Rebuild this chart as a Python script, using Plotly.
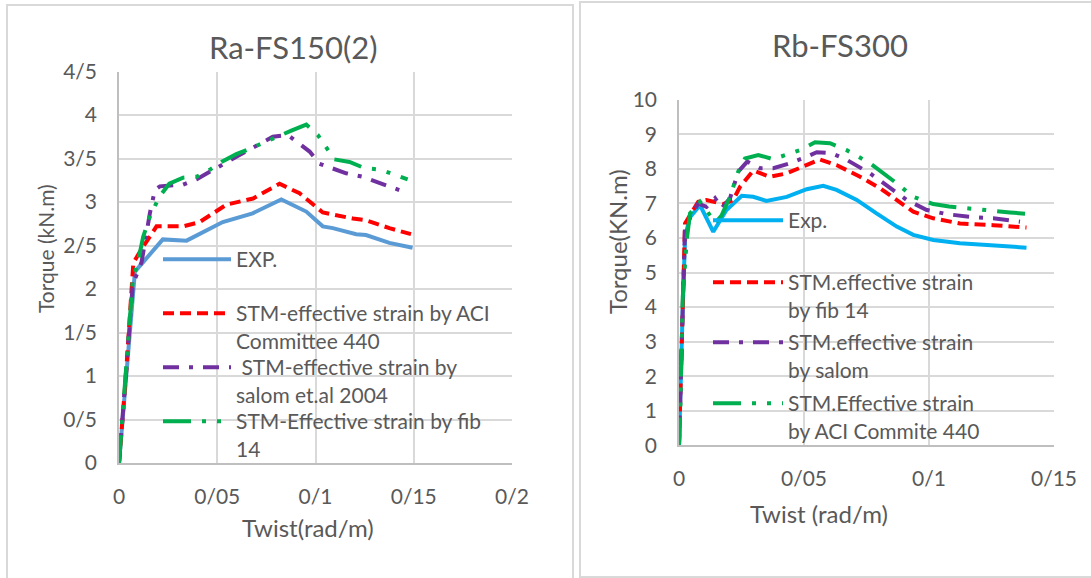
import plotly.graph_objects as go

W, H = 1091, 578
FONT = "Lato"
TXT = "#595959"

# ---------------- Left chart: Ra-FS150(2) ----------------
L_exp_x = [0, 0.0035, 0.0081, 0.0223, 0.0344, 0.0528, 0.068, 0.0826, 0.0953, 0.1037, 0.1088, 0.1207, 0.1257, 0.1376, 0.1494]
L_exp_y = [0, 1.0, 2.2, 2.57, 2.556, 2.77, 2.87, 3.03, 2.89, 2.72, 2.70, 2.63, 2.62, 2.53, 2.475]

L_aci_x = [0, 0.0035, 0.0073, 0.0107, 0.0191, 0.0326, 0.0411, 0.0547, 0.0682, 0.0817, 0.0919, 0.0986, 0.1037, 0.119, 0.1257, 0.1376, 0.1486]
L_aci_y = [0, 1.0, 2.30, 2.43, 2.72, 2.72, 2.77, 2.97, 3.04, 3.21, 3.10, 2.97, 2.88, 2.81, 2.79, 2.70, 2.63]

L_sal_x = [0, 0.0035, 0.0070, 0.0115, 0.0132, 0.0157, 0.0183, 0.0208, 0.0326, 0.0394, 0.0597, 0.0783, 0.0859, 0.097, 0.102, 0.1156, 0.124, 0.1376, 0.1447]
L_sal_y = [0, 1.0, 2.05, 2.31, 2.56, 2.87, 3.14, 3.18, 3.2, 3.26, 3.52, 3.75, 3.77, 3.58, 3.44, 3.33, 3.29, 3.18, 3.12]

L_fib_x = [0, 0.0035, 0.0070, 0.0100, 0.0123, 0.0157, 0.0205, 0.0256, 0.0326, 0.0394, 0.0462, 0.0521, 0.0597, 0.0674, 0.08, 0.0877, 0.0953, 0.1012, 0.1096, 0.1173, 0.1249, 0.1333, 0.1469]
L_fib_y = [0, 1.0, 2.1, 2.35, 2.6, 2.83, 3.06, 3.21, 3.28, 3.29, 3.37, 3.46, 3.55, 3.62, 3.75, 3.82, 3.89, 3.77, 3.49, 3.46, 3.39, 3.37, 3.26]

L_xticks = [0, 0.05, 0.1, 0.15, 0.2]
L_xtext = ["0", "0/05", "0/1", "0/15", "0/2"]
L_yticks = [0, 0.5, 1, 1.5, 2, 2.5, 3, 3.5, 4, 4.5]
L_ytext = ["0", "0/5", "1", "1/5", "2", "2/5", "3", "3/5", "4", "4/5"]

L_names = ["EXP.", "STM-effective strain by ACI<br>Committee 440",
           " STM-effective strain by<br>salom et.al 2004", "STM-Effective strain by fib<br>14"]

# ---------------- Right chart: Rb-FS300 ----------------
R_exp_x = [0, 0.0005, 0.001, 0.0015, 0.0024, 0.0031, 0.0044, 0.0084, 0.0137, 0.019, 0.0251, 0.0297, 0.035, 0.0431, 0.0511, 0.0577, 0.063, 0.0711, 0.079, 0.0871, 0.0937, 0.1017, 0.1124, 0.1257, 0.139]
R_exp_y = [0, 1.5, 3.0, 4.0, 5.94, 6.23, 6.6, 6.95, 6.18, 6.81, 7.22, 7.19, 7.07, 7.19, 7.41, 7.51, 7.39, 7.1, 6.71, 6.33, 6.09, 5.94, 5.85, 5.78, 5.72]

R_fib_x = [0, 0.0005, 0.001, 0.0015, 0.0024, 0.0044, 0.0077, 0.011, 0.0177, 0.0217, 0.0244, 0.0297, 0.0364, 0.0431, 0.0497, 0.0564, 0.063, 0.0724, 0.0804, 0.0884, 0.0937, 0.1017, 0.1124, 0.1257, 0.139]
R_fib_y = [0, 1.2, 2.8, 4.2, 6.42, 6.66, 7.05, 7.1, 6.98, 7.1, 7.48, 7.95, 7.77, 7.87, 8.06, 8.27, 8.11, 7.77, 7.44, 7.05, 6.76, 6.57, 6.42, 6.37, 6.3]

R_sal_x = [0, 0.0005, 0.001, 0.0015, 0.0024, 0.0077, 0.011, 0.0144, 0.0171, 0.0204, 0.0237, 0.0273, 0.0324, 0.0377, 0.0444, 0.0511, 0.0551, 0.0611, 0.0671, 0.0764, 0.0844, 0.0911, 0.0991, 0.1071, 0.1177, 0.1257, 0.1364]
R_sal_y = [0, 1.4, 2.9, 4.1, 6.33, 7.0, 6.9, 7.15, 6.86, 7.15, 7.92, 8.21, 8.02, 8.02, 8.16, 8.35, 8.48, 8.45, 8.26, 7.87, 7.44, 7.1, 6.81, 6.69, 6.6, 6.57, 6.47]

R_aci_x = [0, 0.0005, 0.0015, 0.0031, 0.0044, 0.0084, 0.011, 0.0144, 0.0171, 0.0204, 0.0237, 0.0264, 0.0317, 0.0377, 0.0484, 0.0544, 0.0604, 0.0671, 0.0764, 0.0817, 0.0871, 0.0937, 0.1017, 0.108, 0.1204, 0.1324, 0.139]
R_aci_y = [0, 1.0, 4.3, 5.94, 6.71, 7.05, 6.81, 6.42, 6.66, 7.19, 7.92, 8.3, 8.4, 8.28, 8.54, 8.77, 8.74, 8.54, 8.16, 7.89, 7.58, 7.19, 6.98, 6.91, 6.81, 6.74, 6.7]

R_xticks = [0, 0.05, 0.1, 0.15]
R_xtext = ["0", "0/05", "0/1", "0/15"]
R_yticks = list(range(0, 11))
R_ytext = [str(v) for v in R_yticks]

R_names = ["Exp.", "STM.effective strain<br>by fib 14",
           "STM.effective strain<br>by salom", "STM.Effective strain<br>by ACI Commite 440"]

# ---------------- styles ----------------
RED = dict(color="#ff0000", width=4, dash="11px,6px")
PUR = dict(color="#7030a0", width=4, dash="16px,10px,4px,10px")
GRN = dict(color="#00b050", width=4, dash="28px,11px,4px,11px,4px,11px")

def px(x):
    return x / W

def py(y):
    return 1 - y / H

fig = go.Figure()

def add(x, y, name, line, xa, ya, leg):
    fig.add_trace(go.Scatter(x=x, y=y, name=name, mode="lines", line=line,
                             xaxis=xa, yaxis=ya, legend=leg))

add(L_exp_x, L_exp_y, L_names[0], dict(color="#5b9bd5", width=4), "x", "y", "legend")
add(L_aci_x, L_aci_y, L_names[1], RED, "x", "y", "legend2")
add(L_sal_x, L_sal_y, L_names[2], PUR, "x", "y", "legend3")
add(L_fib_x, L_fib_y, L_names[3], GRN, "x", "y", "legend4")

add(R_exp_x, R_exp_y, R_names[0], dict(color="#00b0f0", width=4), "x2", "y2", "legend5")
add(R_fib_x, R_fib_y, R_names[1], RED, "x2", "y2", "legend6")
add(R_sal_x, R_sal_y, R_names[2], PUR, "x2", "y2", "legend7")
add(R_aci_x, R_aci_y, R_names[3], GRN, "x2", "y2", "legend8")

axis_common = dict(showgrid=True, gridcolor="#d9d9d9", gridwidth=1.5,
                   showline=True, linecolor="#bfbfbf", linewidth=1.5,
                   zeroline=False, ticks="", tickmode="array",
                   tickfont=dict(family=FONT, size=21, color=TXT))

LEG_FS = 21
def leg(xpix, ypix, iw):
    # ypix: centre of first text line of the entry
    return dict(x=px(xpix), y=py(ypix - 20), xanchor="left", yanchor="top",
                bgcolor="rgba(0,0,0,0)", borderwidth=0,
                font=dict(family=FONT, size=LEG_FS, color=TXT),
                itemwidth=iw, valign="top", itemclick=False, itemdoubleclick=False)

legends = {}
for i, yp in enumerate([259, 313, 367, 421]):
    legends["legend" if i == 0 else f"legend{i + 1}"] = leg(158, yp, 68)
for i, yp in enumerate([220, 282, 342, 403]):
    legends[f"legend{i + 5}"] = leg(708, yp, 70)

fig.update_layout(
    width=W, height=H, margin=dict(l=0, r=0, t=0, b=0, autoexpand=False),
    paper_bgcolor="white", plot_bgcolor="white",
    font=dict(family=FONT, color=TXT),
    xaxis=dict(domain=[px(119), px(512)], range=[0, 0.2], tickvals=L_xticks, ticktext=L_xtext,
               anchor="y", ticklabelstandoff=14, **axis_common),
    yaxis=dict(domain=[py(463), py(71.5)], range=[0, 4.5], tickvals=L_yticks, ticktext=L_ytext,
               anchor="x", ticklabelstandoff=16, **axis_common),
    xaxis2=dict(domain=[px(679), px(1054)], range=[0, 0.15], tickvals=R_xticks, ticktext=R_xtext,
                anchor="y2", ticklabelstandoff=14, **axis_common),
    yaxis2=dict(domain=[py(445.4), py(99.7)], range=[0, 10], tickvals=R_yticks, ticktext=R_ytext,
                anchor="x2", ticklabelstandoff=16, **axis_common),
    showlegend=True,
    **legends,
)

ann = [
    dict(text="Ra-FS150(2)", x=px(293), y=py(47), size=31),
    dict(text="Rb-FS300", x=px(840), y=py(45), size=31),
    dict(text="Twist(rad/m)", x=px(308), y=py(527), size=24),
    dict(text="Twist (rad/m)", x=px(819), y=py(513), size=24),
]
for a in ann:
    fig.add_annotation(text=a["text"], x=a["x"], y=a["y"], xref="paper", yref="paper",
                       showarrow=False, xanchor="center", yanchor="middle",
                       font=dict(family=FONT, size=a["size"], color=TXT))
fig.add_annotation(text="Torque (kN.m)", x=px(45), y=py(249), xref="paper", yref="paper",
                   showarrow=False, textangle=-90, xanchor="center", yanchor="middle",
                   font=dict(family=FONT, size=21, color=TXT))
fig.add_annotation(text="Torque(KN.m)", x=px(617), y=py(242), xref="paper", yref="paper",
                   showarrow=False, textangle=-90, xanchor="center", yanchor="middle",
                   font=dict(family=FONT, size=24, color=TXT))

# panel borders
fig.add_shape(type="rect", xref="paper", yref="paper", x0=px(7), x1=px(573), y0=py(590), y1=py(5),
              line=dict(color="#d9d9d9", width=2), fillcolor="rgba(0,0,0,0)", layer="below")
fig.add_shape(type="rect", xref="paper", yref="paper", x0=px(580), x1=px(1100), y0=py(577), y1=py(2),
              line=dict(color="#d9d9d9", width=2), fillcolor="rgba(0,0,0,0)", layer="below")

fig.write_html("out.html", config={"displayModeBar": False},
               post_script="document.body.style.margin='0px';")
